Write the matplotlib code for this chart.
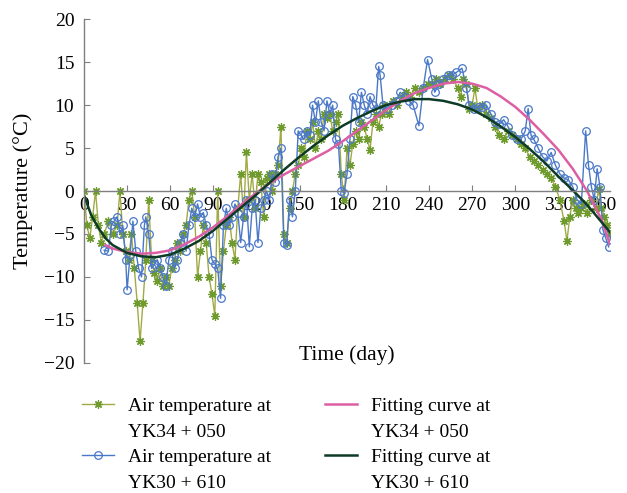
import matplotlib
matplotlib.use('Agg')
import matplotlib.pyplot as plt
from matplotlib.lines import Line2D

plt.rcParams['font.family'] = ['Liberation Serif', 'DejaVu Serif']

# YK34 + 050 air temperature
days_a = [0, 2, 4, 6, 8, 10, 12, 14, 17, 20, 23, 25, 27, 29, 31, 33, 35, 37, 39, 41,
          43, 45, 47, 49, 51, 53, 55, 57, 59, 61, 63, 65, 67, 69, 71, 73, 75, 77, 79, 81,
          83, 85, 87, 89, 91, 93, 95, 97, 99, 101, 103, 105, 107, 109, 111, 113, 115, 117, 119, 121,
          123, 125, 127, 129, 131, 133, 135, 137, 139, 141, 143, 145, 147, 149, 151, 153, 155, 157, 159, 161,
          163, 165, 167, 169, 171, 173, 175, 177, 179, 181, 183, 185, 187, 189, 191, 193, 195, 197, 199, 201,
          203, 205, 207, 209, 212, 215, 218, 221, 224, 227, 230, 233, 236, 239, 242, 245, 248, 251, 254, 257,
          260, 262, 264, 266, 268, 270, 272, 274, 277, 280, 283, 286, 289, 292, 295, 298, 301, 304, 307, 310,
          313, 316, 319, 322, 325, 328, 331, 334, 336, 338, 340, 342, 344, 346, 348, 350, 353, 356, 358, 360,
          362, 364, 366]
temp_a = [0, -4, -5.5, -3, 0, -4, -6, -5, -3.5, -5, -4, 0, -5, -7, -8, -5, -9, -13, -17.5, -13,
          -8, -1, -8, -9.5, -10.5, -9, -11, -10, -11, -9, -8, -6, -7, -5, -4, -1, 0, -3, -10, -7,
          -4, -6, -10, -12, -14.5, 0, -11, -7, -4, -3, -6, -8, -2, 2, -3, 4.5, -1, 2, -2, 2,
          1, -3, 1.5, 2, 0, 2, 3, 7.5, -5, -6, -2, 0, 2, 3, 5, 4, 7, 6, 8, 5,
          7, 6, 9, 8.5, 9, 7, 8, 9, 2, -1, 5, 3, 5.5, 7, 6, 8, 7.5, 6, 4.8, 8,
          9, 7.5, 9, 10, 9, 10.5, 10, 11, 11.5, 11, 12, 11.5, 12, 12.5, 12.5, 13, 12.5, 13, 13.5, 13,
          12, 11, 13, 12.5, 9.5, 10, 12, 9.5, 10, 9, 8.5, 7.5, 6.5, 6, 7, 6.5, 6, 5.5, 5, 4,
          3.5, 3, 2.5, 2, 1.5, 0.5, -1, -3.5, -5.8, -3, -1, -2, -2.5, -2, -1.5, -2.5, -1, -2, 0.2, -2,
          -3, -4, -5]

# YK30 + 610 air temperature
days_b = [14, 17, 19, 21, 23, 25, 27, 29, 30, 32, 34, 36, 38, 40, 42, 43, 45, 47, 49, 51,
          53, 55, 57, 59, 61, 63, 65, 67, 69, 71, 73, 75, 77, 79, 81, 83, 85, 87, 89, 91,
          93, 95, 97, 99, 101, 103, 105, 107, 109, 111, 113, 115, 117, 119, 121, 123, 125, 127, 129, 131,
          133, 135, 137, 139, 141, 143, 145, 147, 149, 151, 153, 155, 157, 159, 161, 163, 165, 167, 169, 171,
          173, 175, 177, 179, 181, 183, 185, 187, 189, 191, 193, 195, 197, 199, 201, 203, 205, 206, 208, 211,
          214, 217, 220, 223, 226, 229, 233, 236, 239, 242, 244, 247, 250, 253, 256, 259, 263, 266, 268, 271,
          274, 277, 280, 283, 286, 289, 292, 295, 298, 301, 304, 307, 309, 311, 313, 316, 319, 322, 325, 328,
          331, 334, 337, 340, 343, 346, 349, 351, 353, 355, 357, 359, 361, 363, 365]
temp_b = [-6.9, -7, -4, -3.5, -3, -5, -4, -8, -11.5, -7.5, -3.5, -7, -9, -10, -4, -3, -5, -9, -8.5, -8,
          -9, -10, -11, -8, -7, -9, -8, -6, -5, -7, -4, -2, -3, -1.5, -3, -2.5, -4, -5, -8, -8.5,
          -9, -12.5, -4, -2, -4, -3, -1.5, -2.5, -6, -3, -1, -6.5, -2, -1, -6, -2, -1, 0, -1, 2,
          1, 4, 5, -6, -6.3, -1, -3, 0, 7, 6.5, 6, 7, 6.5, 10, 8, 10.5, 8, 7, 10.5, 9,
          10, 6, 5.5, 0, -0.2, 2, 6, 11, 10, 8, 11.5, 10, 9, 11, 10, 9.5, 14.5, 13.5, 10, 9.5,
          10, 10.5, 11.5, 11, 10.5, 10, 7.6, 12, 15.3, 13, 11.5, 12.5, 13, 13.5, 13.5, 13.8, 14.3, 12, 10, 9.5,
          9.8, 9.8, 10, 9, 8, 7.8, 8.3, 7.5, 6.5, 6, 6, 7, 9.6, 6.5, 6, 5, 4, 3.5, 4.5, 3,
          2, 1.5, 1.3, 0.5, -1, -1.5, 7, 3, 0.5, -1, 2.6, 0.5, -4.5, -5.5, -6.5]

# fitting curves
fit_days_a = [15, 20, 30, 40, 50, 60, 70, 80, 90, 100, 110, 120, 130, 140, 150, 160, 170, 180, 190, 200,
              210, 220, 230, 240, 250, 260, 270, 280, 290, 300, 310, 320, 330, 340, 350, 360, 366]
fit_a = [-6.3, -6.7, -7.1, -7.3, -7.2, -6.9, -6.2, -5.3, -4.2, -2.9, -1.5, -0.2, 1.0, 2.0, 2.9, 3.8, 4.7, 5.8, 7.0, 8.2,
         9.4, 10.5, 11.4, 12.0, 12.5, 12.7, 12.5, 12.0, 11.0, 9.8, 8.3, 6.6, 4.8, 2.6, 0.0, -3.3, -6.2]

fit_days_b = [0, 5, 10, 15, 20, 30, 40, 50, 60, 70, 80, 90, 100, 110, 120, 130, 140, 150, 160, 170,
              180, 190, 200, 210, 220, 230, 240, 250, 260, 270, 280, 290, 300, 310, 320, 330, 340, 350, 360, 366]
fit_b = [-0.5, -2.8, -4.3, -5.5, -6.3, -7.2, -7.6, -7.7, -7.4, -6.7, -5.8, -4.6, -3.2, -1.8, -0.4, 1.1, 2.6, 4.0, 5.3, 6.5,
         7.6, 8.5, 9.3, 10.0, 10.4, 10.7, 10.7, 10.5, 10.1, 9.5, 8.6, 7.5, 6.3, 4.9, 3.4, 1.7, 0.1, -1.6, -3.6, -4.8]

x_ticks = list(range(0, 361, 30))
y_ticks = list(range(-20, 21, 5))

GREEN_LINE = "#A2AA45"
GREEN_MARK = "#6E9A2E"
BLUE = "#4A78C8"
PINK = "#DD5FA3"
DARK = "#0E3B26"

fig = plt.figure(figsize=(6.27, 4.93), dpi=100)
ax = fig.add_axes([0.134, 0.264, 0.839, 0.697])

l1, = ax.plot(days_a, temp_a, color=GREEN_LINE, lw=1.0, marker=(8, 2, 0), ms=6,
              mec=GREEN_MARK, mew=0.9)
l2, = ax.plot(days_b, temp_b, color=BLUE, lw=1.0, marker='o', ms=5.5, mfc='none',
              mec=BLUE, mew=0.9)
l3, = ax.plot(fit_days_a, fit_a, color=PINK, lw=1.8)
l4, = ax.plot(fit_days_b, fit_b, color=DARK, lw=1.8)

ax.set_xlim(0, 366)
ax.set_ylim(-20, 20)
ax.set_xticks(x_ticks)
ax.set_yticks(y_ticks)

for s in ("top", "right"):
    ax.spines[s].set_visible(False)
ax.spines["bottom"].set_position(("data", 0))
for s in ("bottom", "left"):
    ax.spines[s].set_color("#7f7f7f")
    ax.spines[s].set_linewidth(1.0)
ax.tick_params(axis="both", direction="in", length=4, color="#7f7f7f", labelsize=14)
ax.tick_params(axis="x", pad=4)
ax.tick_params(axis="y", pad=7)

ax.set_ylabel("Temperature (°C)", fontsize=16)
ax.yaxis.set_label_coords(-0.097, 0.5)
ax.text(0.5, 0.023, "Time (day)", transform=ax.transAxes, ha="center", va="center", fontsize=15.5)

# legend: every label line is its own row so the handle sits on the first line
blank = Line2D([], [], linestyle="none")
leg_handles = [l1, blank, l2, blank, l3, blank, l4, blank]
leg_labels = ["Air temperature at", "YK34 + 050", "Air temperature at", "YK30 + 610",
              "Fitting curve at", "YK34 + 050", "Fitting curve at", "YK30 + 610"]
fig.legend(leg_handles, leg_labels, loc="upper left", bbox_to_anchor=(0.131, 0.194), ncol=2,
           frameon=False, fontsize=14, handlelength=1.65, handletextpad=0.7,
           columnspacing=2.8, labelspacing=0.41, borderpad=0, borderaxespad=0)

fig.savefig("out.png", dpi=100)
plt.close(fig)
